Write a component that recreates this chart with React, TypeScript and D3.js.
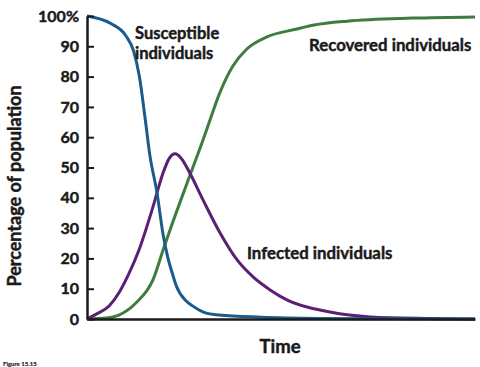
import { useEffect, useRef } from "react";
import * as d3 from "d3";

// time is unitless (0..100 across the axis), values are % of population
const susceptible: [number, number][] = [
  [0, 100], [6, 97.6], [10, 93.5], [12, 88.5], [13.5, 80], [15, 66], [16.2, 54],
  [18, 42], [19.6, 28], [20.7, 21], [22, 15], [23, 11], [25.5, 6], [27, 4.5],
  [30, 2.3], [34, 1.3], [45, 0.6], [60, 0.2], [80, 0.05], [100, 0],
];

const infected: [number, number][] = [
  [0, 0], [2.5, 1.7], [5.7, 4.3], [8.2, 8.6], [10.8, 15], [13.4, 22.8], [17, 37],
  [19.6, 48.2], [21.2, 53], [22.7, 54.5], [24.3, 53], [26.5, 48.2], [29.9, 39.3],
  [34.3, 28.4], [38.7, 19.5], [42.8, 13.9], [47.2, 9.6], [51.5, 6.3], [62.6, 2.3],
  [73, 0.7], [88, 0.2], [100, 0],
];

const recovered: [number, number][] = [
  [0, 0], [5, 0.3], [8.2, 1.3], [12.6, 5.3], [17, 12.9], [19.8, 23.5], [21.4, 29.4],
  [25.8, 44.9], [29.9, 59.1], [30.9, 62.7], [34.3, 74.9], [37.6, 83.5], [41.2, 89.1],
  [46.4, 93.1], [54.1, 95.7], [58.5, 97], [67, 98.3], [84, 99.3], [100, 99.7],
];

const yTicks = [0, 10, 20, 30, 40, 50, 60, 70, 80, 90, 100];

const W = 480;
const H = 367;
const FONT = "Lato, 'Open Sans', sans-serif";
const INK = "#1a1a1a";

const App = () => {
  const ref = useRef<SVGSVGElement | null>(null);

  useEffect(() => {
    const svg = d3.select(ref.current);
    svg.selectAll("*").remove();

    const x = d3.scaleLinear().domain([0, 100]).range([87, 475]);
    const y = d3.scaleLinear().domain([0, 100]).range([319, 16]);

    const line = d3
      .line<[number, number]>()
      .x((d) => x(d[0]))
      .y((d) => y(d[1]))
      .curve(d3.curveMonotoneX);

    const series = [
      { data: recovered, color: "#3e7d3f" },
      { data: infected, color: "#5b1f74" },
      { data: susceptible, color: "#1b5b8c" },
    ];

    svg
      .append("g")
      .selectAll("path")
      .data(series)
      .enter()
      .append("path")
      .attr("d", (d) => line(d.data) as string)
      .attr("fill", "none")
      .attr("stroke", (d) => d.color)
      .attr("stroke-width", 3)
      .attr("stroke-linejoin", "round");

    // heavier look for all bold text
    const heavy = (sel: any) =>
      sel
        .attr("fill", INK)
        .attr("stroke", INK)
        .attr("stroke-width", 0.45)
        .attr("font-family", FONT)
        .attr("font-weight", "bold");

    // axes
    const yAxis = svg
      .append("g")
      .attr("transform", `translate(${x(0)},0)`)
      .call(
        d3
          .axisLeft(y)
          .tickValues(yTicks)
          .tickSizeInner(-7)
          .tickSizeOuter(0)
          .tickPadding(8)
          .tickFormat((d) => (d === 100 ? "100%" : String(d)))
      );
    yAxis.select(".domain").attr("stroke", INK).attr("stroke-width", 2.5);
    yAxis.selectAll(".tick line").attr("stroke", INK).attr("stroke-width", 2);
    heavy(yAxis.selectAll(".tick text")).attr("font-size", 16);

    const xAxis = svg
      .append("g")
      .attr("transform", `translate(0,${y(0)})`)
      .call(d3.axisBottom(x).tickValues([]).tickSizeOuter(0));
    xAxis.select(".domain").attr("stroke", INK).attr("stroke-width", 2.5);

    // labels
    const txt = (s: string, tx: number, ty: number, size: number, anchor = "start") =>
      heavy(svg.append("text"))
        .attr("x", tx)
        .attr("y", ty)
        .attr("font-size", size)
        .attr("text-anchor", anchor)
        .text(s);

    txt("Susceptible", 135, 39, 16.5);
    txt("individuals", 135, 59, 16.5);
    txt("Recovered individuals", 309, 51, 16.8);
    txt("Infected individuals", 247, 259, 16.8);
    txt("Time", 280, 353, 18.5, "middle");
    txt("Figure 15.15", 3, 366, 6).attr("stroke-width", 0.15);

    heavy(svg.append("text"))
      .attr("transform", "translate(21,186) rotate(-90)")
      .attr("font-size", 18)
      .attr("text-anchor", "middle")
      .text("Percentage of population");
  }, []);

  return (
    <svg
      ref={ref}
      width={W}
      height={H}
      style={{ position: "absolute", left: 0, top: 0, background: "#fff" }}
    />
  );
};

export default App;
